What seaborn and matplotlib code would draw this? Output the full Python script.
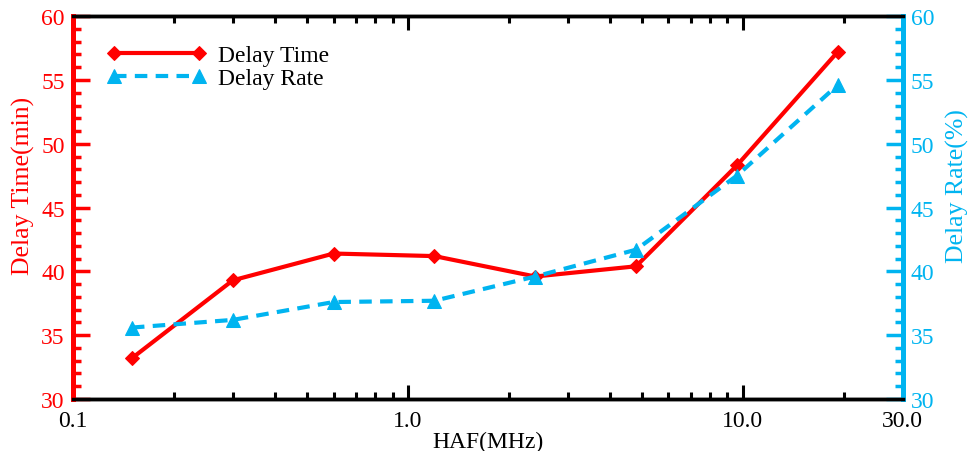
import matplotlib
matplotlib.use("Agg")
import matplotlib.pyplot as plt
import seaborn as sns
import pandas as pd
from matplotlib.ticker import FixedLocator, NullFormatter, LogLocator, MultipleLocator

sns.set_theme(style="white")
plt.rcParams['font.family'] = ['Liberation Serif', 'DejaVu Serif']
plt.rcParams['text.color'] = 'black'

haf = [0.15, 0.3, 0.6, 1.2, 2.4, 4.8, 9.6, 19.2]
delay_time = [33.2, 39.3, 41.4, 41.2, 39.6, 40.4, 48.3, 57.2]
delay_rate = [35.6, 36.2, 37.6, 37.7, 39.6, 41.7, 47.5, 54.6]
xtick_vals = [0.1, 1.0, 10.0, 30.0]
xtick_labels = ["0.1", "1.0", "10.0", "30.0"]

RED = "#FF0000"
BLUE = "#00B4F0"

df = pd.DataFrame({"HAF": haf, "time": delay_time, "rate": delay_rate})

fig = plt.figure(figsize=(9.68, 4.52), dpi=100)
ax1 = fig.add_axes([0.0754, 0.115, 0.857, 0.847])
ax2 = ax1.twinx()

sns.lineplot(data=df, x="HAF", y="time", ax=ax1, color=RED, marker="D",
             markersize=7, markeredgecolor=RED, linewidth=3, label="Delay Time", legend=False)
sns.lineplot(data=df, x="HAF", y="rate", ax=ax2, color=BLUE, marker="^",
             markersize=10, markeredgecolor=BLUE, linewidth=3, linestyle="--",
             dashes=False, label="Delay Rate", legend=False)
for l in ax2.get_lines():
    l.set_linestyle((0, (3, 2)))

ax1.set_xscale("log")
ax1.set_xlim(0.1, 30)
ax1.set_ylim(30, 60)
ax2.set_ylim(30, 60)

ax1.xaxis.set_major_locator(FixedLocator(xtick_vals))
ax1.set_xticklabels(xtick_labels)
ax1.xaxis.set_minor_locator(LogLocator(base=10, subs=range(2, 10)))
ax1.xaxis.set_minor_formatter(NullFormatter())

for ax in (ax1, ax2):
    ax.yaxis.set_major_locator(MultipleLocator(5))
    ax.yaxis.set_minor_locator(MultipleLocator(1))

fs = 17
ax1.tick_params(axis="x", which="both", direction="in", top=True, bottom=True,
                colors="black", labelcolor="black", labelsize=fs, width=2.2, pad=8)
ax1.tick_params(axis="x", which="major", length=10)
ax1.tick_params(axis="x", which="minor", length=5)
ax1.tick_params(axis="y", which="both", direction="in", colors=RED, labelsize=fs, width=2.5, pad=6)
ax1.tick_params(axis="y", which="major", length=12)
ax1.tick_params(axis="y", which="minor", length=6)
ax2.tick_params(axis="y", which="both", direction="in", colors=BLUE, labelsize=fs, width=2.5, pad=6)
ax2.tick_params(axis="y", which="major", length=12)
ax2.tick_params(axis="y", which="minor", length=6)
ax2.tick_params(axis="x", which="both", bottom=False, top=False)

for ax in (ax1, ax2):
    ax.spines["top"].set_color("black")
    ax.spines["bottom"].set_color("black")
    ax.spines["top"].set_linewidth(2.5)
    ax.spines["bottom"].set_linewidth(2.5)
    ax.spines["left"].set_color(RED)
    ax.spines["right"].set_color(BLUE)
    ax.spines["left"].set_linewidth(3.5)
    ax.spines["right"].set_linewidth(3.5)

ax1.set_xlabel("HAF(MHz)", fontsize=fs, color="black", labelpad=0)
ax1.set_ylabel("Delay Time(min)", fontsize=18.5, color=RED)
ax2.set_ylabel("Delay Rate(%)", fontsize=18.5, color=BLUE)
ax1.yaxis.set_label_coords(-0.046, 0.56)
ax2.yaxis.set_label_coords(1.052, 0.56)

h1, l1 = ax1.get_legend_handles_labels()
h2, l2 = ax2.get_legend_handles_labels()
leg = ax2.legend(h1 + h2, l1 + l2, loc="upper left", bbox_to_anchor=(0.03, 0.95),
                 frameon=False, fontsize=fs, numpoints=2, handlelength=4.2,
                 handletextpad=0.5, labelspacing=0.05, borderaxespad=0)
for t in leg.get_texts():
    t.set_color("black")

fig.savefig("out.png", dpi=100)
